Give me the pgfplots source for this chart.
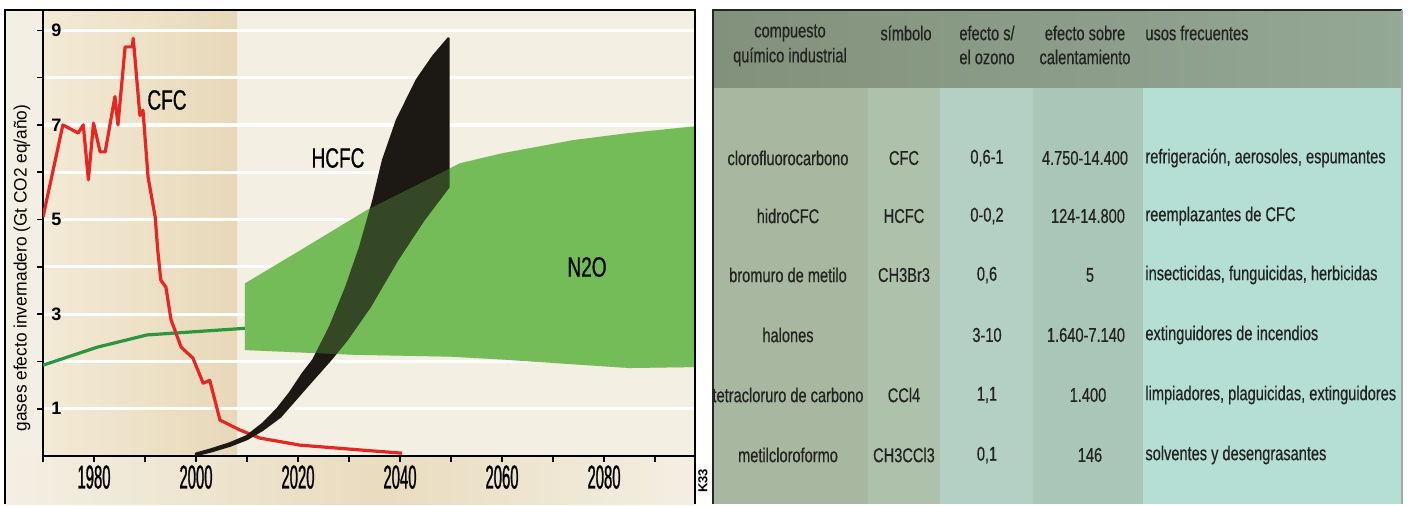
\documentclass[border=0pt]{standalone}
\usepackage{fontspec}
\setmainfont{Liberation Sans}
\usepackage{pgfplots}
\pgfplotsset{compat=1.18}
\newfontfamily\tickfont[FakeStretch=0.45,FakeBold=0.8]{Liberation Sans}
\newfontfamily\lblfont[FakeStretch=0.68,FakeBold=0.6]{Liberation Sans}
\newfontfamily\tabfont[FakeStretch=0.73,FakeBold=0.4]{Liberation Sans}
\newfontfamily\yfont[FakeStretch=0.96]{Liberation Sans}

\definecolor{cfcred}{RGB}{228,38,36}
\definecolor{n2oline}{RGB}{44,150,62}
\definecolor{n2ofill}{RGB}{110,186,82}
\definecolor{hcfc}{RGB}{28,24,20}
\definecolor{creamA}{RGB}{244,239,227}
\definecolor{tanA}{RGB}{243,234,214}
\definecolor{tanB}{RGB}{231,216,184}
\definecolor{hdrA}{RGB}{130,145,123}
\definecolor{hdrB}{RGB}{148,168,150}
\definecolor{colA}{RGB}{168,184,160}
\definecolor{colB}{RGB}{174,193,170}
\definecolor{colC}{RGB}{180,208,196}
\definecolor{colD}{RGB}{170,198,184}
\definecolor{colE}{RGB}{181,222,213}
\definecolor{tabtext}{RGB}{34,34,32}

% CFC emissions (Gt CO2 eq/year)
\pgfplotstableread{
year val
1970.0 5.05
1973.9 7.00
1976.9 6.83
1977.9 7.00
1978.9 5.84
1979.9 7.04
1981.2 6.43
1982.2 6.43
1984.1 7.60
1984.7 7.00
1986.1 8.65
1987.5 8.65
1987.7 8.83
1989.0 7.20
1989.6 7.31
1990.6 5.90
1992.0 5.05
1992.5 4.35
1993.1 3.72
1994.1 3.57
1995.1 2.88
1997.1 2.30
1999.4 2.07
2001.4 1.54
2002.7 1.60
2004.7 0.76
2008.6 0.55
2012.5 0.38
2020.4 0.23
2032.0 0.13
2040.4 0.06
}\cfc

% N2O history
\pgfplotstableread{
year val
1970.0 1.92
1980.6 2.30
1990.4 2.56
2009.6 2.70
}\nhist

% N2O projection band (upper edge, then lower edge back)
\pgfplotstableread{
year val
2009.6 3.65
2020.0 4.32
2033.5 5.20
2051.8 6.19
2060.0 6.40
2074.0 6.68
2085.0 6.83
2097.8 6.97
2097.8 1.88
2085.0 1.86
2071.0 1.96
2060.0 2.04
2050.0 2.10
2031.0 2.14
2009.6 2.24
}\nband

% HCFC band (upper edge, then lower edge back)
\pgfplotstableread{
year val
2000.0 0.05
2003.0 0.14
2006.7 0.27
2010.0 0.42
2013.2 0.69
2016.0 1.00
2018.4 1.33
2021.0 1.75
2023.0 2.03
2026.3 2.73
2029.5 3.58
2032.2 4.42
2034.8 5.41
2036.7 6.26
2039.4 7.10
2043.3 7.95
2046.5 8.45
2049.5 8.83
2049.5 5.69
2044.6 4.99
2039.4 4.14
2034.1 3.16
2029.5 2.45
2026.3 2.03
2021.7 1.47
2016.5 0.83
2013.0 0.55
2010.0 0.36
2006.7 0.22
2003.0 0.10
2000.0 0.02
}\hband

\begin{document}
\begin{tikzpicture}
\begin{scope}[x=0.5pt,y=-0.5pt]
\useasboundingbox (0,0) rectangle (1413,504);
% left panel background
\fill[creamA] (5,10) rectangle (695,504);
\shade[left color=tanA,right color=tanB] (43,10) rectangle (237,456);
\shade[left color=creamA,right color=tanB!85!creamA] (5,456) rectangle (380,504);
\shade[left color=tanB!85!creamA,right color=creamA] (380,456) rectangle (695,504);
\end{scope}

\begin{axis}[
  at={(21.5pt,-228pt)}, anchor=south west,
  width=326pt, height=223pt, scale only axis,
  xmin=1970, xmax=2097.84, ymin=0, ymax=9.43,
  axis x line*=bottom, axis y line*=left,
  axis line style={black, line width=0.9pt},
  xtick={1970,1980,...,2090},
  xticklabels={,1980,,2000,,2020,,2040,,2060,,2080,},
  ytick={1,...,9}, yticklabels={1,,3,,5,,7,,9},
  tick align=outside, major tick length=3pt,
  tick style={black, line width=0.8pt},
  ymajorgrids, grid style={white, line width=1.6pt},
  xticklabel style={font=\tickfont\fontsize{16.5}{16.5}\selectfont, text=black, inner sep=0pt, anchor=north, yshift=-1.5pt},
  yticklabel style={font=\bfseries\fontsize{9}{9}\selectfont, text=black, inner sep=0pt, anchor=west, xshift=7pt},
]
\addplot[n2oline, line width=1.6pt] table[x=year, y=val] {\nhist};
\addplot[n2ofill, fill=n2ofill, draw=none, fill opacity=0.93] table[x=year, y=val] {\nband} -- cycle;
\addplot[cfcred, line width=1.6pt, line join=round] table[x=year, y=val] {\cfc};
\addplot[hcfc, fill=hcfc, line width=1.2pt, line join=round] table[x=year, y=val] {\hband} -- cycle;
\addplot[draw=none, fill=n2ofill, fill opacity=0.3] table[x=year, y=val] {\nband} -- cycle;
\end{axis}

\begin{scope}[x=0.5pt,y=-0.5pt]
% frame of the chart
\draw[black, line width=1pt] (5,504) -- (5,10) -- (695,10) -- (695,504);
\node[font=\lblfont\fontsize{14}{14}\selectfont] at (167,100) {CFC};
\node[font=\lblfont\fontsize{14}{14}\selectfont] at (338,158) {HCFC};
\node[font=\lblfont\fontsize{14}{14}\selectfont] at (587,267) {N2O};
\node[rotate=90, font=\yfont\fontsize{9}{9}\selectfont] at (22,268) {gases efecto invernadero (Gt CO2 eq/año)};
\node[rotate=90, font=\bfseries\fontsize{6.5}{6.5}\selectfont, inner sep=0pt] at (703,481) {K33};

% table
\shade[left color=hdrA,right color=hdrB] (713,10) rectangle (1402,88);
\fill[colA] (713,88) rectangle (868,504);
\fill[colB] (868,88) rectangle (940,504);
\fill[colC] (940,88) rectangle (1033,504);
\fill[colD] (1033,88) rectangle (1143,504);
\fill[colE] (1143,88) rectangle (1402,504);
\draw[black!85, line width=1.2pt] (713,504) -- (713,10) -- (1402,10);
\draw[gray!70, line width=0.6pt] (1402,10) -- (1402,504);

\begin{scope}[every node/.style={font=\tabfont\fontsize{10}{10}\selectfont, text=tabtext, inner sep=0pt}]
\node at (790,33) {compuesto};
\node at (790,57) {químico industrial};
\node at (906,33) {símbolo};
\node at (987,33) {efecto s/};
\node at (987,57) {el ozono};
\node at (1085,33) {efecto sobre};
\node at (1085,57) {calentamiento};
\node[anchor=west] at (1145,33) {usos frecuentes};

\node at (788,158) {clorofluorocarbono};
\node at (904,158) {CFC};
\node at (987,158) {0,6-1};
\node at (1085,158) {4.750-14.400};
\node[anchor=west] at (1145,158) {refrigeración, aerosoles, espumantes};

\node at (788,216) {hidroCFC};
\node at (904,216) {HCFC};
\node at (987,216) {0-0,2};
\node at (1088,216) {124-14.800};
\node[anchor=west] at (1145,216) {reemplazantes de CFC};

\node at (788,275) {bromuro de metilo};
\node at (904,275) {CH3Br3};
\node at (987,275) {0,6};
\node at (1090,275) {5};
\node[anchor=west] at (1145,275) {insecticidas, funguicidas, herbicidas};

\node at (788,335) {halones};
\node at (987,335) {3-10};
\node at (1086,335) {1.640-7.140};
\node[anchor=west] at (1145,335) {extinguidores de incendios};

\node at (788,395) {tetracloruro de carbono};
\node at (904,395) {CCl4};
\node at (987,395) {1,1};
\node at (1088,395) {1.400};
\node[anchor=west] at (1145,395) {limpiadores, plaguicidas, extinguidores};

\node at (788,455) {metilcloroformo};
\node at (904,455) {CH3CCl3};
\node at (987,455) {0,1};
\node at (1090,455) {146};
\node[anchor=west] at (1145,455) {solventes y desengrasantes};
\end{scope}
\end{scope}
\end{tikzpicture}
\end{document}
